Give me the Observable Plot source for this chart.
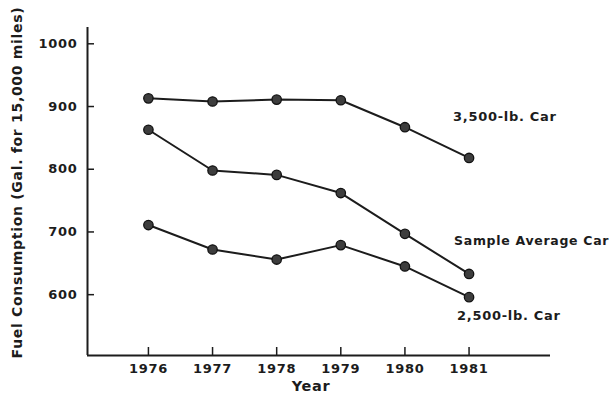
<!DOCTYPE html>
<html>
<head>
<meta charset="utf-8">
<script src="https://cdn.jsdelivr.net/npm/d3@7"></script>
<script src="https://cdn.jsdelivr.net/npm/@observablehq/plot@0.6"></script>
<style>
  html, body { margin: 0; padding: 0; background: #fff; }
  #chart svg text { letter-spacing: 0.7px; }
  #chart svg g[aria-label="avg-label"] text { letter-spacing: 0.35px; }
</style>
</head>
<body>
<div id="chart"></div>
<script>
// ---- data ----
const years = [1976, 1977, 1978, 1979, 1980, 1981];
const car3500 = [913, 908, 911, 910, 867, 818];
const sampleAverage = [863, 798, 791, 762, 697, 633];
const car2500 = [711, 672, 656, 679, 645, 596];
const seriesNames = ["3,500-lb. Car", "Sample Average Car", "2,500-lb. Car"];
const yTicks = [600, 700, 800, 900, 1000];
const xTicks = years;
const xLabel = "Year";
const yLabel = "Fuel Consumption (Gal. for 15,000 miles)";

const seriesValues = [car3500, sampleAverage, car2500];
const rows = seriesNames.flatMap((name, i) =>
  years.map((year, j) => ({series: name, year, value: seriesValues[i][j]})));

const xDomain = [1975.05, 1982.27];
const yDomain = [503, 1026];
const ink = "#1c1c1c";

const lastOf = name => rows.filter(d => d.series === name && d.year === years[years.length - 1]);

const chart = Plot.plot({
  width: 613,
  height: 400,
  marginLeft: 87,
  marginRight: 63,
  marginTop: 27,
  marginBottom: 45,
  style: {fontFamily: "DejaVu Sans, sans-serif", fontSize: "13px", fontWeight: "bold", color: ink, background: "#fff"},
  x: {domain: xDomain},
  y: {domain: yDomain},
  marks: [
    Plot.axisY(yTicks, {anchor: "left", tickSize: 7, dx: 7, tickPadding: 10, strokeWidth: 1.5, tickFormat: "d", label: null, fontSize: 13}),
    Plot.axisX(xTicks, {anchor: "bottom", tickSize: 8, dy: -8, tickPadding: 8, strokeWidth: 1.5, tickFormat: "d", label: null, fontSize: 13}),
    Plot.ruleX([xDomain[0]], {stroke: ink, strokeWidth: 2}),
    Plot.ruleY([yDomain[0]], {stroke: ink, strokeWidth: 2}),
    Plot.line(rows, {x: "year", y: "value", z: "series", stroke: ink, strokeWidth: 2}),
    Plot.dot(rows, {x: "year", y: "value", r: 4.7, fill: "#3d3d3d", stroke: "#111", strokeWidth: 1.3}),
    Plot.text(lastOf(seriesNames[0]), {x: "year", y: "value", text: "series", textAnchor: "start", dx: -16, dy: -41, fontSize: 13, fill: ink}),
    Plot.text(lastOf(seriesNames[1]), {x: "year", y: "value", text: "series", textAnchor: "start", dx: -15, dy: -33, fontSize: 12.5, fill: ink, ariaLabel: "avg-label"}),
    Plot.text(lastOf(seriesNames[2]), {x: "year", y: "value", text: "series", textAnchor: "start", dx: -12, dy: 19, fontSize: 13, fill: ink}),
    Plot.text([xLabel], {frameAnchor: "bottom", textAnchor: "middle", dx: -8, dy: 35, fontSize: 14.5, fill: ink}),
    Plot.text([yLabel], {frameAnchor: "left", textAnchor: "middle", rotate: -90, dx: -70, dy: -9, fontSize: 14, fill: ink})
  ]
});
document.getElementById("chart").appendChild(chart);
</script>
</body>
</html>
